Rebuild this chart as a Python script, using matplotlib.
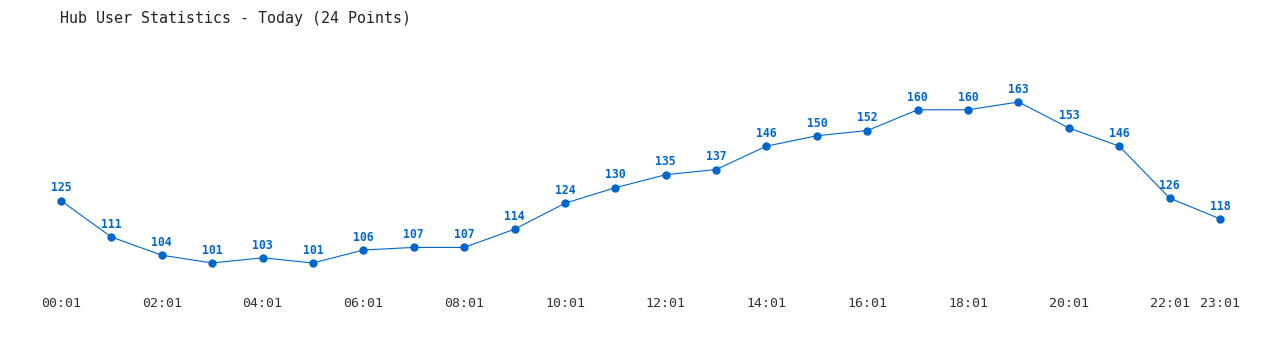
import matplotlib
matplotlib.use("Agg")
import matplotlib.pyplot as plt

# Hourly user counts
hours = ["00:01", "01:01", "02:01", "03:01", "04:01", "05:01", "06:01", "07:01",
         "08:01", "09:01", "10:01", "11:01", "12:01", "13:01", "14:01", "15:01",
         "16:01", "17:01", "18:01", "19:01", "20:01", "21:01", "22:01", "23:01"]
users = [125, 111, 104, 101, 103, 101, 106, 107, 107, 114, 124, 130,
         135, 137, 146, 150, 152, 160, 160, 163, 153, 146, 126, 118]
tick_idx = [0, 2, 4, 6, 8, 10, 12, 14, 16, 18, 20, 22, 23]

blue = "#0066cc"
mono = "DejaVu Sans Mono"

W, H = 1280, 350
fig = plt.figure(figsize=(12.8, 3.5), dpi=100)
# axes box in pixels: x 61..1220, y (from top) 102..263
ax = fig.add_axes([61 / W, (H - 263) / H, (1220 - 61) / W, (263 - 102) / H])

x = list(range(len(users)))
ax.plot(x, users, color=blue, linewidth=0.8, marker="o", markersize=5,
        clip_on=False)
for xi, v in zip(x, users):
    ax.annotate(str(v), (xi, v), xytext=(0, 4.5), textcoords="offset points",
                ha="center", va="bottom", color=blue, fontsize=8.3,
                fontweight="bold", family=mono)

ax.set_xlim(0, 23)
ax.set_ylim(min(users), max(users))
ax.set_xticks(tick_idx)
ax.set_xticklabels([hours[i] for i in tick_idx], family=mono, fontsize=9.5,
                   color="#333333")
ax.tick_params(axis="x", length=0, pad=24.5)
ax.set_yticks([])
for s in ax.spines.values():
    s.set_visible(False)

fig.text(60 / W, 1 - 18 / H, "Hub User Statistics - Today (24 Points)",
         family=mono, fontsize=10.8, color="#222222", va="center", ha="left")

fig.savefig("out.png", dpi=100, facecolor="white")
